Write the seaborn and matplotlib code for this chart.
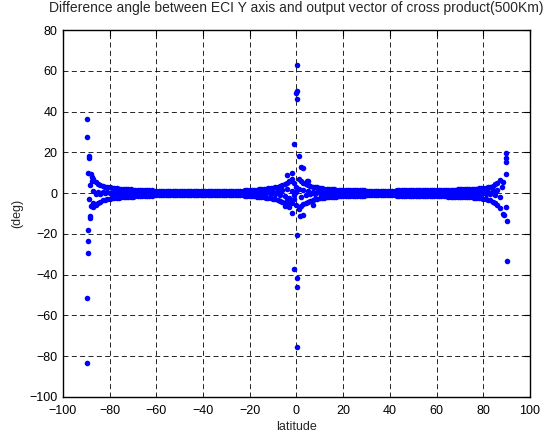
import numpy as np
import pandas as pd
import matplotlib
matplotlib.use('Agg')
import matplotlib.pyplot as plt
import seaborn as sns

# ---- data ----
# main band of points, every 1 deg of latitude from -87 to 87 (upper edge, middle, lower edge)
band_lat = [-87, -86, -85, -84, -83, -82, -81, -80, -79, -78,
            -77, -76, -75, -74, -73, -72, -71, -70, -69, -68,
            -67, -66, -65, -64, -63, -62, -61, -60, -59, -58,
            -57, -56, -55, -54, -53, -52, -51, -50, -49, -48,
            -47, -46, -45, -44, -43, -42, -41, -40, -39, -38,
            -37, -36, -35, -34, -33, -32, -31, -30, -29, -28,
            -27, -26, -25, -24, -23, -22, -21, -20, -19, -18,
            -17, -16, -15, -14, -13, -12, -11, -10, -9, -8,
            -7, -6, -5, -4, -3, -2, -1, 0, 1, 2,
            3, 4, 5, 6, 7, 8, 9, 10, 11, 12,
            13, 14, 15, 16, 17, 18, 19, 20, 21, 22,
            23, 24, 25, 26, 27, 28, 29, 30, 31, 32,
            33, 34, 35, 36, 37, 38, 39, 40, 41, 42,
            43, 44, 45, 46, 47, 48, 49, 50, 51, 52,
            53, 54, 55, 56, 57, 58, 59, 60, 61, 62,
            63, 64, 65, 66, 67, 68, 69, 70, 71, 72,
            73, 74, 75, 76, 77, 78, 79, 80, 81, 82,
            83, 84, 85, 86, 87]
band_hi = [7.0, 5.5, 4.5, 4.0, 3.5, 3.2, 3.0, 2.8, 2.6, 2.5,
           2.4, 2.2, 2.1, 2.0, 1.9, 1.8, 1.8, 1.7, 1.6, 1.6,
           1.5, 1.5, 1.4, 1.4, 1.3, 1.3, 1.2, 1.2, 1.2, 1.1,
           1.1, 1.1, 1.0, 1.0, 1.0, 0.9, 0.9, 0.9, 0.9, 0.8,
           0.8, 0.8, 0.8, 0.8, 0.8, 0.8, 0.8, 0.8, 0.8, 0.8,
           0.8, 0.8, 0.8, 0.8, 0.9, 0.9, 0.9, 0.9, 1.0, 1.0,
           1.0, 1.1, 1.1, 1.2, 1.2, 1.3, 1.3, 1.4, 1.5, 1.6,
           1.7, 1.8, 1.9, 2.0, 2.2, 2.3, 2.5, 2.7, 3.0, 3.2,
           3.6, 4.0, 4.5, 5.0, 6.0, 7.0, 5.0, 3.0, 7.0, 6.0,
           5.0, 4.5, 4.0, 3.5, 3.2, 3.0, 2.8, 2.5, 2.3, 2.2,
           2.1, 2.0, 1.9, 1.8, 1.7, 1.6, 1.6, 1.5, 1.5, 1.4,
           1.4, 1.4, 1.3, 1.3, 1.3, 1.3, 1.3, 1.2, 1.2, 1.2,
           1.2, 1.2, 1.2, 1.2, 1.2, 1.2, 1.2, 1.2, 1.2, 1.2,
           1.3, 1.3, 1.3, 1.3, 1.3, 1.3, 1.3, 1.3, 1.4, 1.4,
           1.4, 1.4, 1.4, 1.4, 1.5, 1.5, 1.5, 1.5, 1.6, 1.6,
           1.6, 1.6, 1.7, 1.7, 1.7, 1.7, 1.8, 1.8, 1.9, 1.9,
           2.0, 2.0, 2.1, 2.1, 2.2, 2.3, 2.4, 2.5, 2.7, 2.9,
           3.2, 3.6, 4.2, 5.0, 6.5]
band_mid = [1.0, -0.5, 0.6, -0.3, 0.4, 0.0, 0.3, -0.2, 0.2, 0.0,
            0.1, 0.0, 0.1, 0.0, 0.0, 0.1, 0.0, 0.0, 0.0, 0.0,
            0.0, 0.0, 0.0, 0.0, 0.0, 0.0, 0.0, 0.0, 0.0, 0.0,
            0.0, 0.0, 0.0, 0.0, 0.0, 0.0, 0.0, 0.0, 0.0, 0.0,
            0.0, 0.0, 0.0, 0.0, 0.0, 0.0, 0.0, 0.0, 0.0, 0.0,
            0.0, 0.0, 0.0, 0.0, 0.0, 0.0, 0.0, 0.0, 0.0, 0.0,
            0.0, 0.0, 0.0, 0.0, 0.0, 0.0, 0.0, 0.1, 0.0, 0.1,
            0.0, 0.2, -0.1, 0.2, -0.2, 0.3, -0.3, 0.5, -0.5, 0.8,
            -1.0, 1.5, -1.5, 2.0, -2.5, 1.0, -1.0, 0.5, 2.0, -2.0,
            1.5, -1.2, 1.0, -0.6, 0.5, -0.3, 0.3, -0.2, 0.2, 0.0,
            0.1, 0.0, 0.1, 0.0, 0.0, 0.0, 0.0, 0.0, 0.0, 0.0,
            0.0, 0.0, 0.0, 0.0, 0.0, 0.0, 0.0, 0.0, 0.0, 0.0,
            0.0, 0.0, 0.0, 0.0, 0.0, 0.0, 0.0, 0.0, 0.0, 0.0,
            0.0, 0.0, 0.0, 0.0, 0.0, 0.0, 0.0, 0.0, 0.0, 0.0,
            0.0, 0.0, 0.0, 0.0, 0.0, 0.0, 0.0, 0.0, 0.0, 0.0,
            0.0, 0.0, 0.0, 0.0, 0.0, 0.0, 0.0, 0.0, 0.0, 0.0,
            0.0, 0.1, 0.0, 0.1, 0.0, 0.2, -0.1, 0.3, -0.3, 0.5,
            -0.6, 0.8, -1.2, 1.5, -2.0]
band_lo = [-7.0, -6.0, -5.0, -4.2, -3.6, -3.2, -3.0, -2.8, -2.6, -2.5,
           -2.4, -2.2, -2.1, -2.0, -1.9, -1.8, -1.8, -1.7, -1.6, -1.6,
           -1.5, -1.5, -1.4, -1.4, -1.3, -1.3, -1.2, -1.2, -1.2, -1.1,
           -1.1, -1.1, -1.0, -1.0, -1.0, -0.9, -0.9, -0.9, -0.9, -0.8,
           -0.8, -0.8, -0.8, -0.8, -0.8, -0.8, -0.8, -0.8, -0.8, -0.8,
           -0.8, -0.8, -0.8, -0.8, -0.9, -0.9, -0.9, -0.9, -1.0, -1.0,
           -1.0, -1.1, -1.1, -1.2, -1.2, -1.3, -1.3, -1.4, -1.5, -1.6,
           -1.7, -1.8, -1.9, -2.0, -2.2, -2.4, -2.6, -2.8, -3.1, -3.4,
           -3.8, -4.3, -5.0, -6.0, -7.0, -5.0, -3.0, -6.0, -8.0, -6.5,
           -5.5, -4.8, -4.2, -3.8, -3.4, -3.0, -2.8, -2.5, -2.3, -2.2,
           -2.1, -2.0, -1.9, -1.8, -1.7, -1.6, -1.6, -1.5, -1.5, -1.4,
           -1.4, -1.4, -1.3, -1.3, -1.3, -1.3, -1.3, -1.2, -1.2, -1.2,
           -1.2, -1.2, -1.2, -1.2, -1.2, -1.2, -1.2, -1.2, -1.2, -1.2,
           -1.3, -1.3, -1.3, -1.3, -1.3, -1.3, -1.3, -1.3, -1.4, -1.4,
           -1.4, -1.4, -1.4, -1.4, -1.5, -1.5, -1.5, -1.5, -1.6, -1.6,
           -1.6, -1.6, -1.7, -1.7, -1.7, -1.7, -1.8, -1.8, -1.9, -1.9,
           -2.0, -2.0, -2.1, -2.2, -2.3, -2.4, -2.5, -2.7, -2.9, -3.2,
           -3.6, -4.2, -5.0, -6.0, -7.5]

# scattered points near the south pole, equator and north pole
left_lat = [-89.9, -89.9, -88.9, -88.8, -88.1, -87.7, -89.2, -88.5, -87.5, -88.8,
            -88.0, -87.2, -88.4, -88.6, -89.3, -89.3, -89.3, -89.9, -89.9]
left_dev = [36.4, 27.4, 18.4, 17.1, 9.4, 8.1, 9.7, 4.0, 6.0, -3.0,
            -6.6, -5.0, -11.5, -12.3, -18.0, -23.3, -29.2, -51.4, -83.6]
mid_lat = [0.3, -0.4, 0.2, 0.3, -0.9, 1.2, 2.6, 2.0, -4.2, -2.1, -2.8, 4.4, 5.1,
           -4.2, -2.8, -4.9, -2.1, 1.5, 2.7, 7.2, 0.3, -0.9, 0.2, 0.3, 0.3]
mid_dev = [62.8, 49.3, 50.1, 46.0, 24.1, 18.4, 12.2, 12.8, 8.9, 9.7, 5.7, 5.7, 6.0,
           -3.3, -4.2, -6.6, -9.9, -11.5, -11.0, -5.8, -20.8, -37.2, -41.9, -46.1, -75.7]
right_lat = [89.6, 89.6, 89.6, 89.6, 88.6, 87.9, 89.6, 88.6, 89.0, 90.0, 90.0]
right_dev = [19.6, 17.4, 15.1, 9.1, 5.3, 3.2, -6.9, -10.2, -10.7, -13.8, -33.4]

df = pd.DataFrame({
    'latitude': band_lat * 3 + left_lat + mid_lat + right_lat,
    'deg': band_hi + band_mid + band_lo + left_dev + mid_dev + right_dev,
})

sns.set_style('white')
plt.rcParams['font.family'] = ['Liberation Sans', 'DejaVu Sans']

fig = plt.figure(figsize=(5.5, 4.38), dpi=100)
ax = fig.add_axes([0.1145, 0.094, 0.8491, 0.8375])

sns.scatterplot(data=df, x='latitude', y='deg', color='#0000ff', s=16,
                linewidth=0, ax=ax, zorder=3)

ax.set_xlim(-100, 100)
ax.set_ylim(-100, 80)
ax.set_xticks(range(-100, 101, 20))
ax.set_yticks(range(-100, 81, 20))
ax.grid(True, color='black', linestyle=(0, (6, 4)), linewidth=0.6)
ax.tick_params(direction='in', top=True, right=True, length=4, width=0.8,
               labelsize=9, colors='black', pad=4)
ax.tick_params(axis='x', pad=6)
for s in ax.spines.values():
    s.set_color('black')
    s.set_linewidth(1.0)

ax.set_title('Difference angle between ECI Y axis and output vector of cross product(500Km)',
             fontsize=10, pad=13)
ax.set_xlabel('latitude', fontsize=9, labelpad=3)
ax.set_ylabel('(deg)', fontsize=9, labelpad=4)

fig.savefig('out.png', dpi=100)
